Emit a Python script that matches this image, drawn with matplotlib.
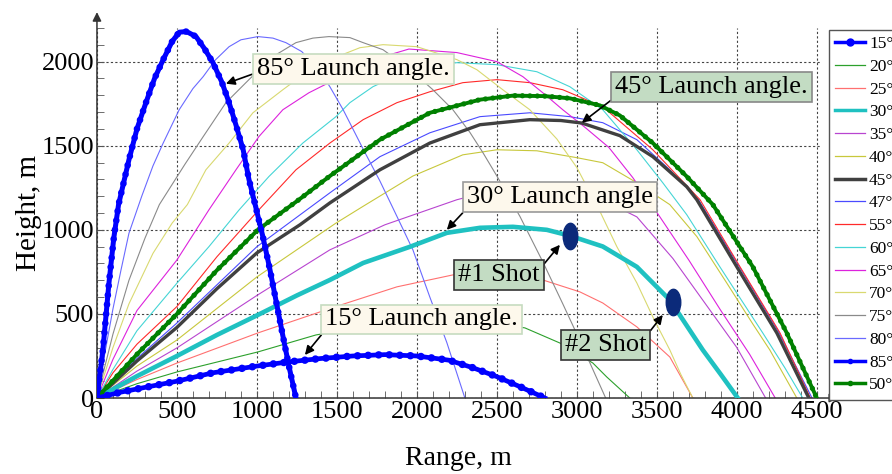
import matplotlib
matplotlib.use("Agg")
import matplotlib.pyplot as plt
from matplotlib.lines import Line2D
from matplotlib.path import Path
from matplotlib.ticker import MultipleLocator
from matplotlib.transforms import Affine2D

plt.rcParams['font.family'] = ['Liberation Serif', 'DejaVu Serif']

# ---------------------------------------------------------------- data (m)
x15 = [0, 150, 310, 500, 725, 1000, 1200, 1400, 1600, 1800, 2000, 2200, 2350, 2500, 2650, 2800]
y15 = [0, 35, 65, 100, 150, 190, 215, 235, 250, 258, 250, 225, 180, 127, 65, 0]
x20 = [0, 250, 500, 1006, 1369, 1700, 2000, 2300, 2500, 2675, 2894, 3100, 3187, 3331]
y20 = [0, 85, 155, 274, 375, 430, 455, 455, 440, 417, 327, 208, 125, 0]
x25 = [0, 250, 500, 1006, 1494, 1875, 2225, 2500, 2787, 3019, 3162, 3375, 3581, 3725]
y25 = [0, 110, 208, 387, 544, 661, 732, 740, 702, 631, 565, 423, 244, 0]
x30 = [0, 250, 500, 750, 1006, 1250, 1456, 1664, 1956, 2187, 2394, 2600, 2812, 2956, 3162, 3375, 3581, 3787, 3900, 4006]
y30 = [0, 130, 250, 375, 494, 610, 702, 803, 899, 982, 1012, 1018, 1000, 965, 901, 780, 583, 286, 140, 0]
x35 = [0, 250, 500, 1000, 1456, 1800, 2250, 2500, 2750, 3000, 3200, 3375, 3600, 3831, 4000, 4180]
y35 = [0, 160, 298, 610, 881, 1030, 1179, 1240, 1255, 1230, 1160, 1077, 830, 524, 300, 0]
x40 = [0, 250, 500, 1000, 1494, 1664, 1975, 2287, 2500, 2750, 3000, 3162, 3375, 3581, 3750, 3937, 4100, 4206, 4375]
y40 = [0, 190, 345, 720, 1040, 1140, 1320, 1446, 1476, 1470, 1429, 1399, 1280, 1150, 960, 684, 440, 286, 0]
x45 = [0, 250, 500, 750, 1000, 1269, 1456, 1769, 2081, 2394, 2706, 2900, 3031, 3269, 3475, 3687, 3750, 4000, 4250, 4450]
y45 = [0, 220, 420, 650, 863, 1030, 1160, 1357, 1516, 1625, 1655, 1650, 1635, 1560, 1435, 1256, 1179, 780, 387, 0]
x47 = [0, 250, 500, 1000, 1456, 1769, 2081, 2394, 2706, 2956, 3162, 3375, 3581, 3760, 4010, 4260, 4470]
y47 = [0, 235, 446, 900, 1220, 1435, 1577, 1673, 1696, 1673, 1637, 1536, 1357, 1179, 790, 395, 0]
x50 = [0, 250, 500, 750, 1006, 1262, 1456, 1769, 2081, 2394, 2600, 2800, 2956, 3144, 3269, 3475, 3687, 3850, 4100, 4312, 4500]
y50 = [0, 260, 500, 760, 1000, 1179, 1320, 1536, 1696, 1774, 1798, 1795, 1782, 1740, 1680, 1516, 1317, 1150, 780, 387, 0]
x55 = [0, 100, 250, 500, 750, 1012, 1244, 1456, 1664, 1875, 2081, 2287, 2500, 2706, 2912, 3162, 3475, 3770, 4020, 4270, 4460]
y55 = [0, 150, 320, 544, 840, 1119, 1357, 1516, 1655, 1756, 1821, 1875, 1893, 1875, 1833, 1732, 1476, 1179, 780, 387, 0]
x60 = [0, 100, 250, 500, 700, 889, 1075, 1287, 1494, 1581, 1725, 1950, 2250, 2500, 2750, 2956, 3162, 3375, 3537, 3687, 3894, 4030, 4162, 4300, 4412]
y60 = [0, 170, 400, 683, 900, 1119, 1317, 1516, 1673, 1756, 1851, 1950, 1994, 1982, 1940, 1851, 1714, 1476, 1280, 1090, 780, 580, 387, 180, 0]
x65 = [0, 100, 250, 500, 700, 869, 1012, 1162, 1325, 1450, 1650, 1950, 2250, 2500, 2662, 2787, 2912, 3050, 3200, 3350, 3519, 3700, 3900, 4080, 4240]
y65 = [0, 230, 520, 821, 1119, 1357, 1554, 1714, 1815, 1875, 1990, 2075, 2054, 2000, 1911, 1815, 1714, 1610, 1490, 1310, 1077, 820, 520, 260, 0]
x70 = [0, 100, 200, 350, 470, 565, 681, 826, 975, 1162, 1300, 1450, 1644, 1788, 2000, 2250, 2375, 2537, 2706, 2875, 3000, 3144, 3250, 3375, 3481, 3581, 3650, 3725]
y70 = [0, 300, 560, 860, 1040, 1150, 1357, 1516, 1696, 1833, 1930, 2010, 2083, 2101, 2089, 2012, 1952, 1833, 1714, 1540, 1370, 1110, 900, 684, 470, 286, 140, 0]
x75 = [0, 100, 200, 300, 390, 550, 664, 806, 950, 1100, 1244, 1350, 1450, 1581, 1664, 1788, 1950, 2100, 2225, 2331, 2412, 2500, 2644, 2787, 2912, 3000, 3081, 3180]
y75 = [0, 380, 700, 950, 1150, 1390, 1554, 1756, 1893, 2030, 2113, 2140, 2149, 2143, 2113, 2071, 1960, 1833, 1714, 1580, 1460, 1320, 1080, 810, 560, 380, 210, 0]
x80 = [0, 50, 100, 150, 200, 280, 350, 414, 514, 600, 664, 740, 826, 900, 1006, 1100, 1181, 1280, 1380, 1456, 1539, 1600, 1664, 1769, 1850, 1975, 2081, 2187, 2300]
y80 = [0, 270, 530, 760, 980, 1200, 1380, 1516, 1714, 1840, 1911, 2010, 2089, 2130, 2149, 2140, 2113, 2060, 1960, 1851, 1714, 1600, 1480, 1290, 1130, 881, 600, 330, 0]
x85 = [0, 37, 75, 105, 135, 200, 250, 306, 360, 414, 470, 514, 560, 619, 670, 725, 780, 826, 870, 914, 950, 994, 1037, 1080, 1119, 1160, 1200, 1244]
y85 = [0, 286, 684, 950, 1150, 1417, 1600, 1756, 1900, 2012, 2120, 2175, 2179, 2149, 2080, 1994, 1880, 1756, 1620, 1476, 1300, 1130, 960, 770, 580, 380, 190, 0]

shot_x = [2956, 3600]
shot_y = [965, 570]

legend_labels = ['15°', '20°', '25°', '30°', '35°', '40°', '45°', '47°', '55°', '60°',
                 '65°', '70°', '75°', '80°', '85°', '50°']

c = {'15': '#0000ff', '20': '#2ca02c', '25': '#ff7070', '30': '#1fc1c1', '35': '#b845d0',
     '40': '#c8c83c', '45': '#404040', '47': '#4a4aff', '55': '#ff2a2a', '60': '#45d5d5',
     '65': '#dd22dd', '70': '#d9d970', '75': '#8a8a8a', '80': '#6a6aff', '85': '#0000ff',
     '50': '#008000'}

fig = plt.figure(figsize=(8.92, 4.74), dpi=100)
ax = fig.add_axes([0.1087, 0.1603, 0.8106, 0.7806])

# thin trajectories
for a, xs, ys in [('20', x20, y20), ('25', x25, y25), ('35', x35, y35), ('40', x40, y40),
                  ('47', x47, y47), ('55', x55, y55), ('60', x60, y60), ('65', x65, y65),
                  ('70', x70, y70), ('75', x75, y75), ('80', x80, y80)]:
    ax.plot(xs, ys, color=c[a], lw=0.8, zorder=3)

# thick ones (dotted overlay mimics the dense markers)
dots = dict(linestyle=(0, (0.01, 1.4)), dash_capstyle='round')
ax.plot(x45, y45, color=c['45'], lw=2.4, zorder=4)
ax.plot(x30, y30, color=c['30'], lw=3.3, zorder=4)
ax.plot(x50, y50, color=c['50'], lw=2.8, zorder=5)
ax.plot(x50, y50, color=c['50'], lw=3.8, zorder=5, **dots)
ax.plot(x15, y15, color=c['15'], lw=3.4, zorder=6)
ax.plot(x15, y15, color=c['15'], lw=5.4, zorder=6, **dots)
ax.plot(x85, y85, color=c['85'], lw=3.6, zorder=6)
ax.plot(x85, y85, color=c['85'], lw=4.8, zorder=6, **dots)

# shot markers (tall ellipses)
ell = Path.unit_circle().transformed(Affine2D().scale(0.55, 1.0))
ax.plot(shot_x, shot_y, ls='none', marker=ell, ms=19, color='#0b2a7a', zorder=7)

# annotations
cream = dict(boxstyle='square,pad=0.15', fc='#fdf8ec', ec='#c6dcc0', lw=1.2)
cream2 = dict(boxstyle='square,pad=0.15', fc='#fdf8ec', ec='#999999', lw=1.2)
green = dict(boxstyle='square,pad=0.15', fc='#c3dcc3', ec='#888888', lw=1.2)
green2 = dict(boxstyle='square,pad=0.15', fc='#c3dcc3', ec='#333333', lw=1.2)


def note(txt, tip, pos, box, rel):
    ax.annotate(txt, xy=tip, xytext=pos, ha='center', va='center', fontsize=19, bbox=box,
                zorder=9, arrowprops=dict(arrowstyle='-|>', color='k', lw=1.2,
                                          mutation_scale=13, shrinkA=0, shrinkB=0, relpos=rel))


note('85° Launch angle.', (806, 1869), (1603, 1955), cream, (0, 0.35))
note('45° Launch angle.', (3031, 1637), (3841, 1848), green, (0, 0.05))
note('30° Launch angle', (2187, 1000), (2894, 1193), cream2, (0, 0))
note('#1 Shot', (2894, 911), (2512, 732), green2, (1, 0.75))
note('#2 Shot', (3537, 494), (3178, 315), green2, (1, 0.9))
note('15° Launch angle.', (1300, 256), (2028, 467), cream, (0, 0))

# axes
ax.set_xlim(0, 4520)
ax.set_ylim(0, 2200)
ax.set_xticks(range(0, 4501, 500))
ax.set_yticks(range(0, 2001, 500))
ax.xaxis.set_minor_locator(MultipleLocator(100))
ax.yaxis.set_minor_locator(MultipleLocator(100))
ax.tick_params(which='both', direction='in', length=5, color='#555555', labelsize=19, pad=2)
ax.grid(True, which='major', linestyle=(0, (2, 2)), color='#444444', lw=0.8)
for s in ax.spines.values():
    s.set_visible(False)
arr = dict(arrowstyle='-|>', color='#333333', lw=1.1, mutation_scale=13, shrinkA=0, shrinkB=0)
ax.annotate('', xy=(0, 1.043), xytext=(0, 0), xycoords='axes fraction', arrowprops=arr,
            annotation_clip=False)
ax.annotate('', xy=(1.025, 0), xytext=(0, 0), xycoords='axes fraction', arrowprops=arr,
            annotation_clip=False)
ax.set_xlabel('Range, m', fontsize=20, labelpad=17)
ax.set_ylabel('Height, m', fontsize=21, labelpad=0)

# legend
handles = []
for lab in legend_labels:
    a = lab[:-1]
    if a in ('15', '85'):
        handles.append(Line2D([], [], color=c[a], lw=2.5, marker='o', ms=5 if a == '15' else 3))
    elif a == '50':
        handles.append(Line2D([], [], color=c[a], lw=2.5, marker='o', ms=3))
    elif a in ('30', '45'):
        handles.append(Line2D([], [], color=c[a], lw=2.5))
    else:
        handles.append(Line2D([], [], color=c[a], lw=0.9))
leg = fig.legend(handles, legend_labels, loc='upper left', bbox_to_anchor=(0.9294, 0.9367),
                 bbox_transform=fig.transFigure, fontsize=12.5, handlelength=1.7,
                 handletextpad=0.25, labelspacing=0.38, borderpad=0.35, borderaxespad=0,
                 fancybox=False, edgecolor='#555555', framealpha=1)
leg.get_frame().set_linewidth(1.0)

fig.savefig('out.png', dpi=100)
